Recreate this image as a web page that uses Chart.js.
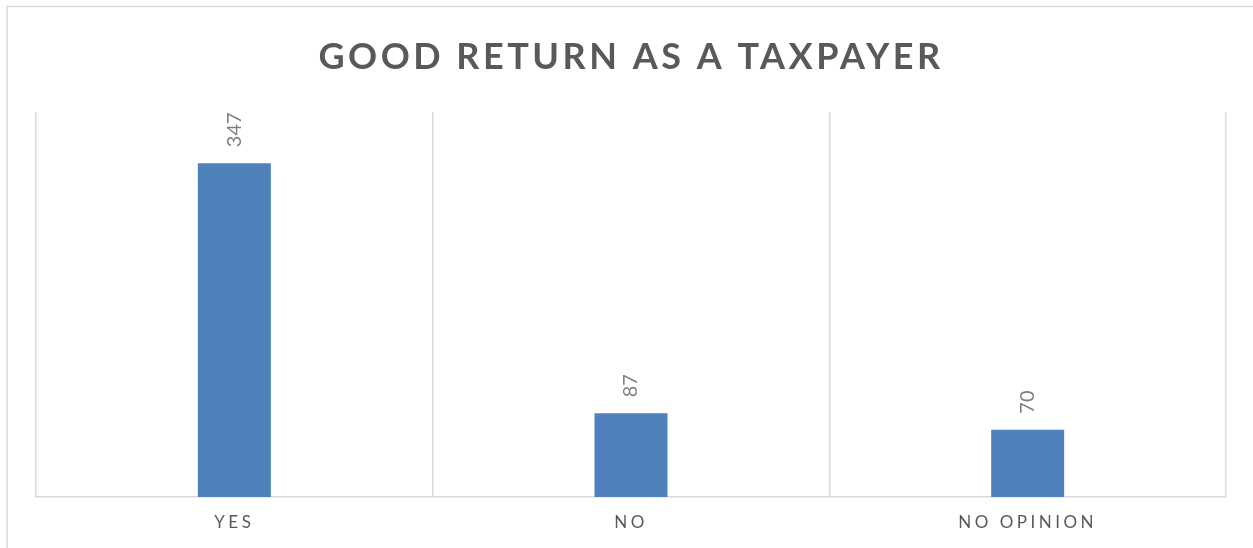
<!DOCTYPE html>
<html>
<head>
<meta charset="utf-8">
<script src="https://cdn.jsdelivr.net/npm/chart.js"></script>
<style>
  html, body { margin: 0; padding: 0; background: #fff; }
  #wrap { width: 1253px; height: 548px; }
</style>
</head>
<body>
<div id="wrap"><canvas id="taxChart" width="1253" height="548"></canvas></div>
<script>
    const categories = ['YES', 'NO', 'NO OPINION'];
    const responses = [347, 87, 70];

    // Excel-ish look: letter spacing on title and axis labels
    const spacing = {
        id: 'spacing',
        beforeUpdate(chart) { chart.ctx.letterSpacing = '3.5px'; },
        beforeDraw(chart) {
            const c = chart.ctx;
            c.letterSpacing = '3.5px';
            c.save();
            c.strokeStyle = '#d9d9d9';
            c.lineWidth = 1.5;
            c.strokeRect(7, 6.5, 1400, 700);
            c.restore();
        }
    };

    const barLabels = {
        id: 'barLabels',
        afterDatasetsDraw(chart) {
            const c = chart.ctx;
            const meta = chart.getDatasetMeta(0);
            c.save();
            c.letterSpacing = '0px';
            c.font = '20px Lato';
            c.fillStyle = '#7f7f7f';
            c.textAlign = 'left';
            c.textBaseline = 'middle';
            meta.data.forEach((bar, i) => {
                c.save();
                c.translate(bar.x, bar.y - 16);
                c.rotate(-Math.PI / 2);
                c.fillText(String(responses[i]), 0, 0);
                c.restore();
            });
            c.restore();
        }
    };

    const ctx = document.getElementById('taxChart').getContext('2d');

    new Chart(ctx, {
        type: 'bar',
        data: {
            labels: categories,
            datasets: [{
                label: 'Responses',
                data: responses,
                backgroundColor: '#4f81bd',
                borderWidth: 0,
                barPercentage: 0.184,
                categoryPercentage: 1
            }]
        },
        options: {
            responsive: false,
            animation: false,
            layout: {
                padding: { left: 36, right: 27, top: 0, bottom: 0 }
            },
            plugins: {
                legend: { display: false },
                tooltip: { enabled: false },
                title: {
                    display: true,
                    text: 'GOOD RETURN AS A TAXPAYER',
                    color: '#595959',
                    font: { family: 'Lato', size: 36, weight: 'bold', lineHeight: 1.2 },
                    padding: { top: 36, bottom: 33 }
                }
            },
            scales: {
                x: {
                    grid: {
                        offset: true,
                        color: '#d9d9d9',
                        lineWidth: 1.5,
                        drawTicks: false
                    },
                    border: { color: '#d9d9d9', width: 1.5 },
                    ticks: {
                        color: '#595959',
                        font: { family: 'Lato', size: 17, lineHeight: 1 },
                        padding: 17
                    }
                },
                y: {
                    display: false,
                    min: 0,
                    max: 400
                }
            }
        },
        plugins: [spacing, barLabels]
    });
</script>
</body>
</html>
